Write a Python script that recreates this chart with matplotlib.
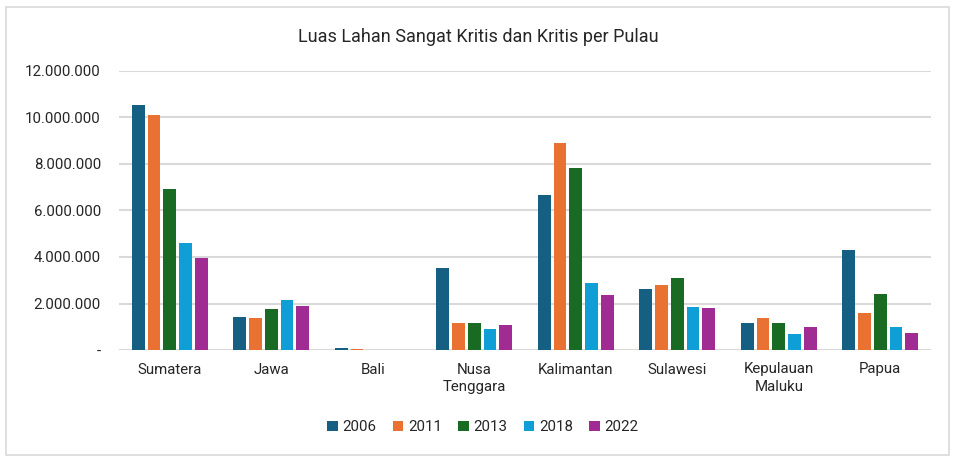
import numpy as np
import matplotlib.pyplot as plt
from matplotlib.patches import Rectangle
from matplotlib.ticker import FuncFormatter

# data
pulau = ['Sumatera', 'Jawa', 'Bali', 'Nusa\nTenggara', 'Kalimantan',
         'Sulawesi', 'Kepulauan\nMaluku', 'Papua']
tahun = ['2006', '2011', '2013', '2018', '2022']
luas_2006 = [10540000, 1420000, 70000, 3530000, 6670000, 2620000, 1160000, 4300000]
luas_2011 = [10100000, 1380000, 55000, 1160000, 8900000, 2800000, 1380000, 1590000]
luas_2013 = [6920000, 1760000, 0, 1160000, 7830000, 3100000, 1160000, 2410000]
luas_2018 = [4600000, 2150000, 0, 900000, 2880000, 1850000, 690000, 990000]
luas_2022 = [3960000, 1890000, 0, 1080000, 2370000, 1800000, 990000, 730000]
warna = ['#156082', '#E97132', '#196B24', '#0F9ED5', '#A02B93']

series = [luas_2006, luas_2011, luas_2013, luas_2018, luas_2022]

plt.rcParams['font.family'] = ['Roboto', 'DejaVu Sans']

fig = plt.figure(figsize=(9.56, 4.57), dpi=100)
ax = fig.add_axes([119 / 956, 1 - 350 / 457, 812 / 956, 279 / 457])

# grey frame around the whole chart
fig.patches.append(Rectangle((6 / 956, 2 / 457), 943 / 956, 448 / 457,
                             transform=fig.transFigure, fill=False,
                             edgecolor='#d9d9d9', linewidth=1.2))

x = np.arange(len(pulau))
lebar = 0.125
jarak = 0.155
for i, (nilai, th) in enumerate(zip(series, tahun)):
    ax.bar(x + (i - 2) * jarak, nilai, width=lebar, color=warna[i], label=th, zorder=3)

ax.set_xlim(-0.5, len(pulau) - 0.5)
ax.set_ylim(0, 12000000)
ax.set_yticks(np.arange(0, 12000001, 2000000))


def fmt(v, pos):
    if v == 0:
        return '-'
    return f'{int(v):,}'.replace(',', '.')


ax.yaxis.set_major_formatter(FuncFormatter(fmt))
ax.grid(axis='y', color='#d9d9d9', linewidth=1.5, zorder=0)
ax.set_axisbelow(True)
for s in ['top', 'right', 'left', 'bottom']:
    ax.spines[s].set_visible(False)
ax.tick_params(axis='both', length=0, labelsize=10.8, colors='#262626')
ax.tick_params(axis='y', pad=13)
ax.tick_params(axis='x', pad=9)
ax.set_xticks(x)
ax.set_xticklabels(pulau, linespacing=1.3)

fig.text(0.5, 1 - 37 / 457, 'Luas Lahan Sangat Kritis dan Kritis per Pulau',
         ha='center', va='center', fontsize=13, color='#262626')

fig.legend(loc='center', bbox_to_anchor=(0.505, 1 - 427 / 457), ncol=5,
           frameon=False, fontsize=10.8, handlelength=0.7, handleheight=0.7,
           handletextpad=0.3, columnspacing=1.1, labelcolor='#262626')

fig.savefig('out.png', dpi=100)
